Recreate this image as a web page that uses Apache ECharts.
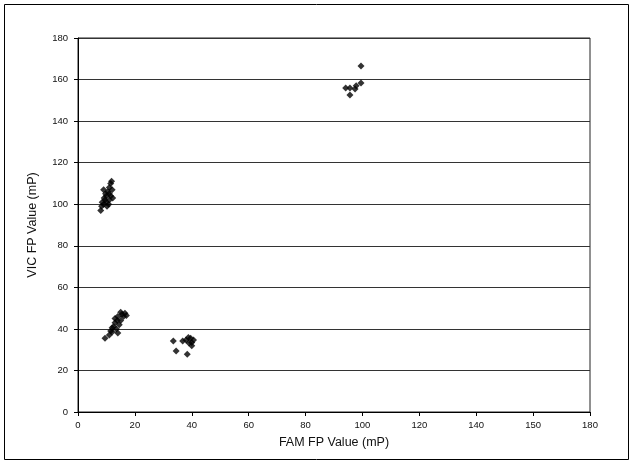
<!DOCTYPE html>
<html>
<head>
<meta charset="utf-8">
<script src="https://cdn.jsdelivr.net/npm/echarts@6/dist/echarts.min.js"></script>
<style>
  html, body { margin: 0; padding: 0; background: #fff; }
  #chart { width: 632px; height: 464px; }
</style>
</head>
<body>
<div id="chart"></div>
<script>
// tick labels as printed on the original (160 is shown as "150")
const xTickLabels = ['0', '20', '40', '60', '80', '100', '120', '140', '150', '180']

// FAM / VIC pairs
const clusterHigh = [
    [99.5, 166.5], [99.5, 158.3], [94.1, 155.9], [95.6, 155.9], [97.4, 155.4],
    [95.6, 152.6], [97.8, 157]
]
const clusterVic = [
    [8, 97], [8.3, 99], [8.5, 101], [9, 100], [9.2, 103], [9.5, 102], [10, 104],
    [10, 101], [10.5, 106], [11, 105], [11, 108], [11.5, 110], [11.8, 111],
    [12, 107], [12.2, 103], [10.2, 99], [9, 107], [11, 102], [11.5, 104],
    [10.8, 100], [9.7, 105]
]
const clusterHetero = [
    [9.5, 35.5], [11, 37], [11.5, 39], [12, 38.5], [12.5, 41], [13, 43],
    [13.5, 40], [14, 38], [13, 45], [14, 46], [15, 44], [15.5, 47], [16, 46],
    [16.5, 47.5], [17, 46.5], [14.5, 42], [12, 40.5], [15, 48], [13.8, 44]
]
const clusterFam = [
    [33.5, 34.2], [34.5, 29.4], [38.4, 27.8], [36.8, 34.2], [38.8, 35.8],
    [39.6, 35.5], [40, 33.5], [40.6, 34.6], [39, 33.2], [38, 34.6], [40, 31.9]
]

const allPoints = [].concat(clusterHigh, clusterVic, clusterHetero, clusterFam)

const font = 'Liberation Sans, Arial, sans-serif'

echarts.init(document.querySelector('#chart')).setOption({
    animation: false,
    graphic: [{
        type: 'rect',
        shape: { x: 4.5, y: 4.5, width: 624, height: 455 },
        style: { fill: 'none', stroke: '#000', lineWidth: 1 },
        silent: true
    }],
    grid: {
        left: 78, right: 42, top: 38, bottom: 52,
        show: true, borderColor: '#222', borderWidth: 1
    },
    xAxis: {
        type: 'value',
        min: 0, max: 180, interval: 20,
        name: 'FAM FP Value (mP)',
        nameLocation: 'middle',
        nameGap: 24,
        nameTextStyle: { fontFamily: font, fontSize: 12.5, color: '#111' },
        axisLine: { show: true, lineStyle: { color: '#000', width: 1 } },
        axisTick: { show: true, length: 4, lineStyle: { color: '#000' } },
        axisLabel: {
            fontFamily: font, fontSize: 9.5, color: '#111', margin: 8,
            formatter: function (v) { return xTickLabels[Math.round(v / 20)] }
        },
        splitLine: { show: false }
    },
    yAxis: {
        type: 'value',
        min: 0, max: 180, interval: 20,
        name: 'VIC FP Value (mP)',
        nameLocation: 'middle',
        nameGap: 39,
        nameTextStyle: { fontFamily: font, fontSize: 12.5, color: '#111' },
        axisLine: { show: true, lineStyle: { color: '#000', width: 1 } },
        axisTick: { show: true, length: 4, inside: false, lineStyle: { color: '#000' } },
        axisLabel: { fontFamily: font, fontSize: 9.5, color: '#111', margin: 10 },
        splitLine: { show: true, lineStyle: { color: '#333', width: 1 } }
    },
    series: [{
        type: 'scatter',
        symbol: 'diamond',
        symbolSize: 7,
        itemStyle: { color: '#000' },
        data: allPoints
    }]
});
</script>
</body>
</html>
